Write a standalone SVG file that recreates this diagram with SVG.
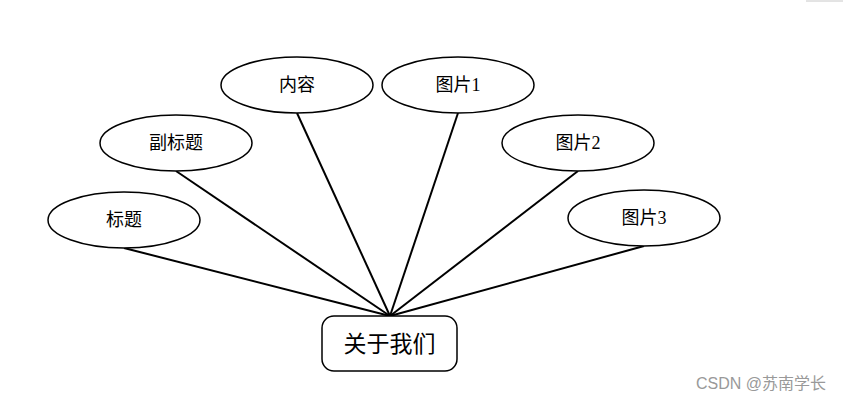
<svg xmlns="http://www.w3.org/2000/svg" width="848" height="402" viewBox="0 0 848 402">
<defs>
<filter id="glow" x="-20%" y="-30%" width="140%" height="160%">
<feGaussianBlur in="SourceAlpha" stdDeviation="2"/>
<feOffset dx="1" dy="2"/>
<feComponentTransfer><feFuncA type="linear" slope="0.15"/></feComponentTransfer>
<feFlood flood-color="#9fb8e0"/>
<feComposite in2="SourceAlpha" operator="in" result="x"/>
<feMerge><feMergeNode/><feMergeNode in="SourceGraphic"/></feMerge>
</filter>
</defs>
<style>
.n { fill: #ffffff; stroke: #000000; stroke-width: 1.5; }
.t { font-family: "Liberation Serif", "Noto Sans CJK SC", serif; font-size: 18px; fill: #000000; text-anchor: middle; dominant-baseline: central; }
.big { font-size: 23px; }
.c line { stroke: #000000; stroke-width: 2; }
.wm { font-family: "Liberation Sans", "Noto Sans CJK SC", sans-serif; font-size: 16px; fill: #999999; }
</style>
<rect width="848" height="402" fill="#ffffff"/>
<line x1="806" y1="1" x2="843" y2="1" stroke="#c8c8c8" stroke-width="1"/>
<g class="c" id="connectors">
<line x1="124" y1="248" x2="390" y2="316"/>
<line x1="176" y1="171" x2="390" y2="316"/>
<line x1="297" y1="113" x2="390" y2="316"/>
<line x1="458" y1="113" x2="390" y2="316"/>
<line x1="578" y1="171" x2="390" y2="316"/>
<line x1="644" y1="246" x2="390" y2="316"/>
</g>
<g id="n-biaoti"><ellipse class="n" cx="124" cy="220" rx="76" ry="28"/><text class="t" x="124" y="220">标题</text></g>
<g id="n-fubiaoti"><ellipse class="n" cx="176" cy="143" rx="76" ry="28"/><text class="t" x="176" y="143">副标题</text></g>
<g id="n-neirong"><ellipse class="n" cx="297" cy="85" rx="76" ry="28"/><text class="t" x="297" y="85">内容</text></g>
<g id="n-tupian1"><ellipse class="n" cx="458" cy="85" rx="76" ry="28"/><text class="t" x="458" y="85">图片1</text></g>
<g id="n-tupian2"><ellipse class="n" cx="578" cy="143" rx="76" ry="28"/><text class="t" x="578" y="143">图片2</text></g>
<g id="n-tupian3"><ellipse class="n" cx="644" cy="218" rx="76" ry="28"/><text class="t" x="644" y="218">图片3</text></g>
<g id="n-guanyu"><rect class="n" x="322" y="316" width="135" height="55" rx="12" ry="12"/><text class="t big" x="389.5" y="344">关于我们</text></g>
<text class="wm" x="696" y="389">CSDN @苏南学长</text>
</svg>
